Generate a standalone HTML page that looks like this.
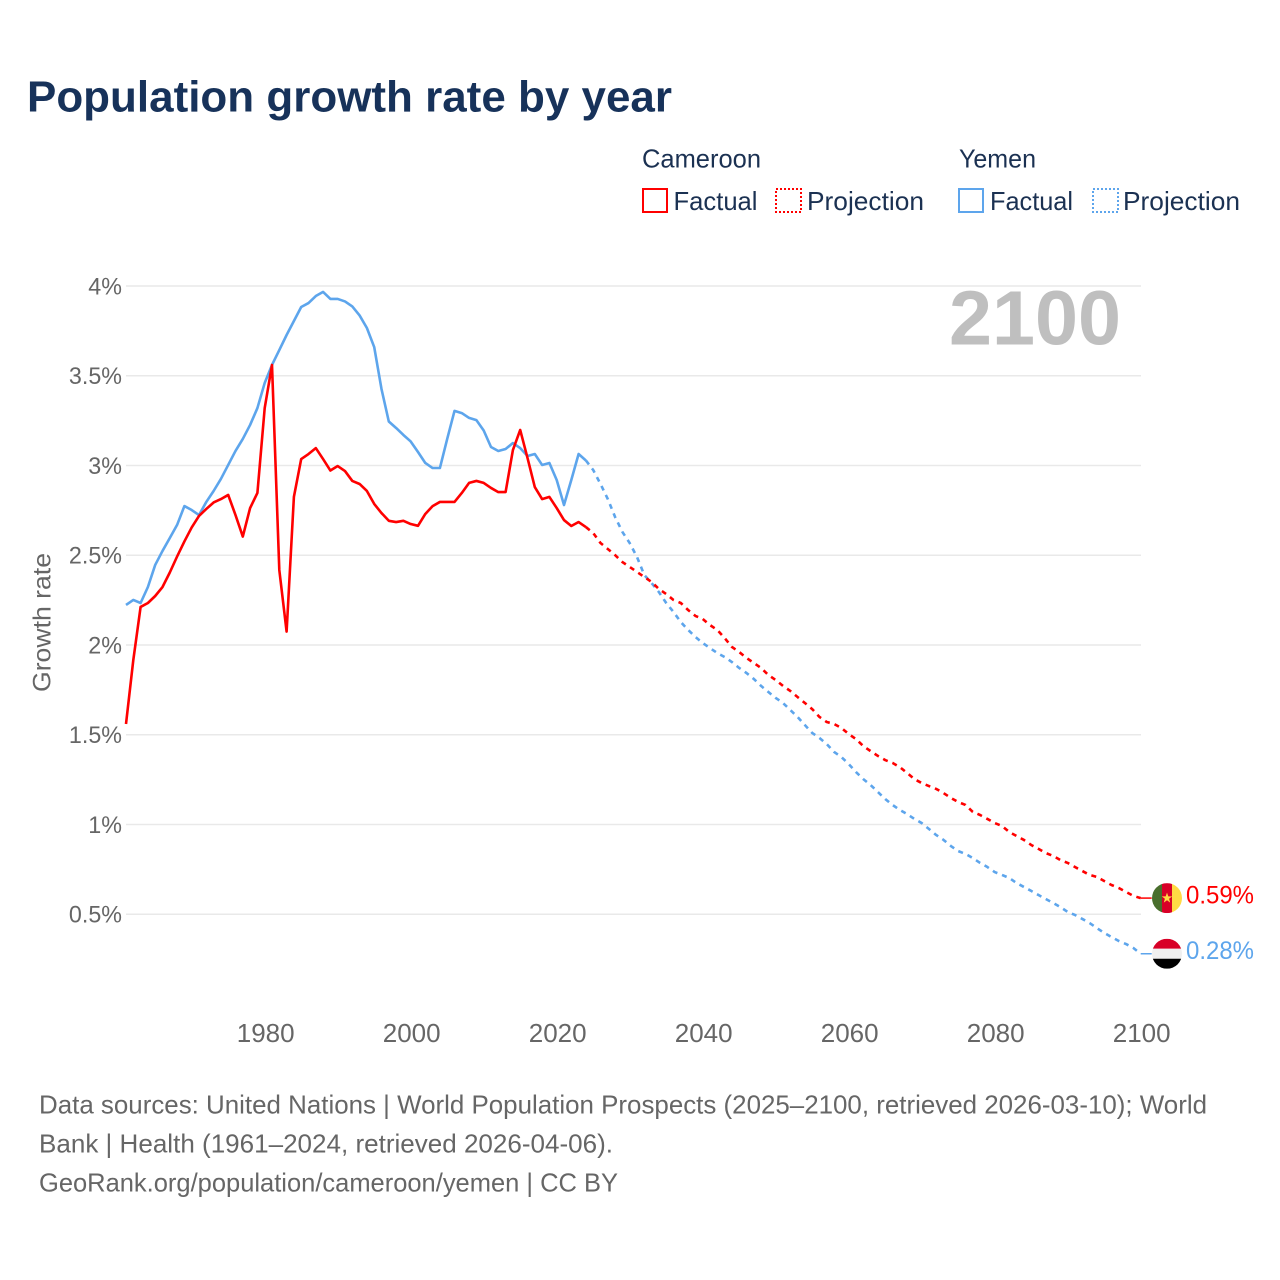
<!DOCTYPE html>
<html lang="en">
<head>
<meta charset="utf-8">
<title>Population growth rate by year</title>
<style>
html,body{margin:0;padding:0;background:#fff;width:1280px;height:1280px;overflow:hidden}
svg{display:block}
text{font-family:"Liberation Sans",Arial,sans-serif}
</style>
</head>
<body>
<svg id="chart" xmlns="http://www.w3.org/2000/svg" width="1280" height="1280" viewBox="0 0 1280 1280">
  <rect width="1280" height="1280" fill="#ffffff"/>
  <text x="27" y="111.500" font-size="43.500" font-weight="700" fill="#17325a" textLength="645" lengthAdjust="spacingAndGlyphs">Population growth rate by year</text>

  <g font-size="26" fill="#1b3152">
    <text x="642" y="167.500" textLength="119" lengthAdjust="spacingAndGlyphs">Cameroon</text>
    <text x="959" y="167.500" textLength="77" lengthAdjust="spacingAndGlyphs">Yemen</text>
    <rect x="643" y="189" width="24" height="23" fill="none" stroke="#ff0000" stroke-width="2"/>
    <text x="673.500" y="210" textLength="84" lengthAdjust="spacingAndGlyphs">Factual</text>
    <rect x="776" y="189" width="25" height="23" fill="none" stroke="#ff0000" stroke-width="2" stroke-dasharray="2 2"/>
    <text x="807" y="210" textLength="117" lengthAdjust="spacingAndGlyphs">Projection</text>
    <rect x="959" y="189" width="24" height="23" fill="none" stroke="#5da5ec" stroke-width="2"/>
    <text x="990" y="210" textLength="83" lengthAdjust="spacingAndGlyphs">Factual</text>
    <rect x="1093" y="189" width="25" height="23" fill="none" stroke="#5da5ec" stroke-width="2" stroke-dasharray="2 2"/>
    <text x="1123" y="210" textLength="117" lengthAdjust="spacingAndGlyphs">Projection</text>
  </g>

  <g id="grid"></g>
  <g id="y-ticks"></g>
  <g id="x-ticks"></g>
  <text transform="translate(50.500 622.500) rotate(-90)" text-anchor="middle" font-size="25" fill="#666666" textLength="139" lengthAdjust="spacingAndGlyphs">Growth rate</text>
  <text x="1121" y="344.500" text-anchor="end" font-size="77" font-weight="700" fill="#bfbfbf" textLength="172" lengthAdjust="spacingAndGlyphs">2100</text>

  <g id="series"></g>

  <defs>
    <clipPath id="flag-clip"><circle cx="0" cy="0" r="15"/></clipPath>
  </defs>
  <g id="flag-cameroon">
    <g clip-path="url(#flag-clip)">
      <rect x="-15" y="-15" width="10" height="30" fill="#496e2d"/>
      <rect x="-5" y="-15" width="10" height="30" fill="#d80027"/>
      <rect x="5" y="-15" width="10" height="30" fill="#ffda44"/>
      <polygon points="0,-5.500 1.300,-1.700 5.200,-1.700 2.100,0.700 3.200,4.500 0,2.200 -3.200,4.500 -2.100,0.700 -5.200,-1.700 -1.300,-1.700" fill="#ffda44"/>
    </g>
  </g>
  <g id="flag-yemen">
    <g clip-path="url(#flag-clip)">
      <rect x="-15" y="-15" width="30" height="10" fill="#d80027"/>
      <rect x="-15" y="-5" width="30" height="10" fill="#f0f0f0"/>
      <rect x="-15" y="5" width="30" height="10" fill="#000000"/>
    </g>
  </g>
  <text id="end-label-cameroon" x="1186" font-size="25" fill="#ff0000" textLength="68" lengthAdjust="spacingAndGlyphs"></text>
  <text id="end-label-yemen" x="1186" font-size="25" fill="#5da5ec" textLength="68" lengthAdjust="spacingAndGlyphs"></text>

  <g font-size="26" fill="#666666">
    <text x="39" y="1113.500" textLength="1168" lengthAdjust="spacingAndGlyphs">Data sources: United Nations | World Population Prospects (2025–2100, retrieved 2026-03-10); World</text>
    <text x="39" y="1152.500" textLength="574" lengthAdjust="spacingAndGlyphs">Bank | Health (1961–2024, retrieved 2026-04-06).</text>
    <a><text x="39" y="1191.500" textLength="579" lengthAdjust="spacingAndGlyphs">GeoRank.org/population/cameroon/yemen | CC BY</text></a>
  </g>
</svg>
<script>
const firstFactualYear = 1961;
const firstProjectionYear = 2025;
const xTickYears = [1980, 2000, 2020, 2040, 2060, 2080, 2100];
const yTickValues = [0.5, 1, 1.5, 2, 2.5, 3, 3.5, 4];
const yTickLabels = ['0.5%', '1%', '1.5%', '2%', '2.5%', '3%', '3.5%', '4%'];

const cameroonFactual = [
  1.56, 1.916, 2.212, 2.234, 2.273, 2.323, 2.404, 2.493, 2.577, 2.655,
  2.719, 2.758, 2.794, 2.813, 2.836, 2.724, 2.604, 2.763, 2.847, 3.32,
  3.56, 2.418, 2.075, 2.825, 3.036, 3.064, 3.097, 3.036, 2.972, 2.997,
  2.969, 2.914, 2.897, 2.858, 2.786, 2.735, 2.692, 2.685, 2.692, 2.674,
  2.664, 2.73, 2.774, 2.797, 2.797, 2.797, 2.847, 2.903, 2.914, 2.903,
  2.875, 2.852, 2.852, 3.086, 3.198, 3.042, 2.88, 2.813, 2.825, 2.763,
  2.696, 2.663, 2.685, 2.657
];
const cameroonProjection = [
  2.624, 2.568, 2.535, 2.501, 2.462, 2.435, 2.407, 2.379, 2.351, 2.312,
  2.284, 2.251, 2.234, 2.195, 2.162, 2.145, 2.111, 2.084, 2.039, 1.989,
  1.961, 1.928, 1.9, 1.872, 1.833, 1.805, 1.772, 1.744, 1.71, 1.677,
  1.643, 1.599, 1.571, 1.56, 1.538, 1.504, 1.476, 1.437, 1.409, 1.382,
  1.359, 1.343, 1.32, 1.287, 1.253, 1.231, 1.214, 1.198, 1.175, 1.148,
  1.125, 1.109, 1.07, 1.053, 1.031, 1.008, 0.992, 0.958, 0.936, 0.914,
  0.886, 0.864, 0.841, 0.825, 0.802, 0.786, 0.763, 0.741, 0.719, 0.708,
  0.685, 0.663, 0.646, 0.624, 0.602, 0.59
];
const yemenFactual = [
  2.223, 2.251, 2.234, 2.323, 2.446, 2.524, 2.596, 2.669, 2.774, 2.752,
  2.724, 2.797, 2.858, 2.925, 3.003, 3.081, 3.148, 3.226, 3.32, 3.46,
  3.56, 3.643, 3.727, 3.805, 3.883, 3.905, 3.944, 3.967, 3.928, 3.928,
  3.914, 3.886, 3.836, 3.766, 3.66, 3.426, 3.245, 3.209, 3.17, 3.134,
  3.075, 3.014, 2.986, 2.986, 3.148, 3.304, 3.292, 3.265, 3.253, 3.195,
  3.103, 3.081, 3.092, 3.125, 3.097, 3.053, 3.064, 3.003, 3.014, 2.919,
  2.78, 2.919, 3.064, 3.028
];
const yemenProjection = [
  2.975, 2.897, 2.813, 2.713, 2.63, 2.568, 2.49, 2.39, 2.345, 2.295,
  2.234, 2.184, 2.128, 2.084, 2.045, 2.011, 1.983, 1.955, 1.933, 1.905,
  1.872, 1.844, 1.811, 1.772, 1.738, 1.705, 1.677, 1.638, 1.599, 1.554,
  1.51, 1.482, 1.448, 1.404, 1.376, 1.337, 1.292, 1.253, 1.22, 1.181,
  1.142, 1.109, 1.081, 1.058, 1.031, 1.008, 0.975, 0.941, 0.914, 0.88,
  0.852, 0.836, 0.813, 0.786, 0.763, 0.735, 0.719, 0.702, 0.674, 0.652,
  0.63, 0.607, 0.585, 0.563, 0.54, 0.513, 0.496, 0.474, 0.451, 0.423,
  0.396, 0.373, 0.351, 0.334, 0.312, 0.28
];

const SVG_NS = 'http://www.w3.org/2000/svg';
const RED = '#ff0000';
const BLUE = '#5da5ec';
const xScale = year => 126 + (year - 1961) * 7.3;
const yScale = value => 286 + (4 - value) * 179.5;

const gridGroup = document.getElementById('grid');
const yTickGroup = document.getElementById('y-ticks');
yTickValues.forEach((value, i) => {
  const line = document.createElementNS(SVG_NS, 'line');
  
  
  line.setAttribute('x1', 126);
  line.setAttribute('x2', 1141);
  line.setAttribute('y1', yScale(value));
  line.setAttribute('y2', yScale(value));
  line.setAttribute('stroke', '#e9e9e9');
  line.setAttribute('stroke-width', 1.5);
  gridGroup.appendChild(line);

  const label = document.createElementNS(SVG_NS, 'text');
  
  
  label.setAttribute('x', 122);
  label.setAttribute('y', yScale(value) + 8.3);
  label.setAttribute('text-anchor', 'end');
  label.setAttribute('font-size', 24.5);
  label.setAttribute('fill', '#666666');
  label.textContent = yTickLabels[i];
  yTickGroup.appendChild(label);
  label.setAttribute('textLength', (label.getComputedTextLength() * 0.95).toFixed(1));
  label.setAttribute('lengthAdjust', 'spacingAndGlyphs');
});

const xTickGroup = document.getElementById('x-ticks');
xTickYears.forEach(year => {
  const label = document.createElementNS(SVG_NS, 'text');
  
  
  label.setAttribute('x', xScale(year) + 1);
  label.setAttribute('y', 1042);
  label.setAttribute('text-anchor', 'middle');
  label.setAttribute('font-size', 26);
  label.setAttribute('fill', '#666666');
  label.textContent = String(year);
  xTickGroup.appendChild(label);
});

function pointsFor(values, startYear) {
  return values.map((v, i) => xScale(startYear + i).toFixed(2) + ',' + yScale(v).toFixed(2));
}

const seriesGroup = document.getElementById('series');
function addLine(points, color, dashed, name) {
  const line = document.createElementNS(SVG_NS, 'polyline');
  
  
  line.setAttribute('points', points.join(' '));
  line.setAttribute('fill', 'none');
  line.setAttribute('stroke', color);
  line.setAttribute('stroke-width', 2.6);
  line.setAttribute('stroke-linejoin', 'round');
  if (dashed) line.setAttribute('stroke-dasharray', '5 5');
  seriesGroup.appendChild(line);
}

const lastFactualYear = firstProjectionYear - 1;
addLine(pointsFor(yemenFactual, firstFactualYear), BLUE, false, 'yemen-factual-line');
addLine(pointsFor(cameroonFactual, firstFactualYear), RED, false, 'cameroon-factual-line');
addLine(pointsFor([yemenFactual[yemenFactual.length - 1]].concat(yemenProjection), lastFactualYear), BLUE, true, 'yemen-projection-line');
addLine(pointsFor([cameroonFactual[cameroonFactual.length - 1]].concat(cameroonProjection), lastFactualYear), RED, true, 'cameroon-projection-line');

const lastYear = firstProjectionYear + cameroonProjection.length - 1;
function placeEnd(values, color, flagId, labelId, stubName) {
  const endValue = values[values.length - 1];
  const endX = xScale(lastYear);
  const endY = yScale(endValue);
  const stub = document.createElementNS(SVG_NS, 'line');
  
  
  stub.setAttribute('x1', endX);
  stub.setAttribute('x2', endX + 11);
  stub.setAttribute('y1', endY);
  stub.setAttribute('y2', endY);
  stub.setAttribute('stroke', color);
  stub.setAttribute('stroke-width', 1.5);
  seriesGroup.appendChild(stub);
  document.getElementById(flagId).setAttribute('transform', 'translate(' + (endX + 26.3) + ' ' + endY + ')');
  const label = document.getElementById(labelId);
  label.setAttribute('y', endY + 5.500);
  label.textContent = endValue.toFixed(2) + '%';
}
placeEnd(cameroonProjection, RED, 'flag-cameroon', 'end-label-cameroon', 'cameroon-end-connector');
placeEnd(yemenProjection, BLUE, 'flag-yemen', 'end-label-yemen', 'yemen-end-connector');
</script>
</body>
</html>
